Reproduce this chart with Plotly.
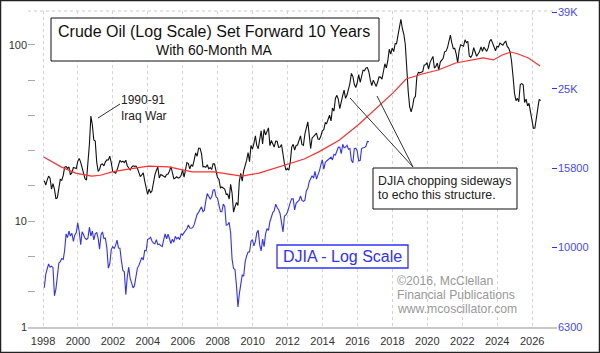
import plotly.graph_objects as go

# ---------------- data ----------------
# Crude oil monthly closes, Jan 1988 .. Jun 2016 (plotted shifted forward 10 years)
oil_start_year = 1988
oil_shift_years = 10
oil = [
    16.94, 16.01, 17.08, 17.99, 17.51, 15.16, 16.31, 15.18, 13.37, 13.58, 15.32, 17.24,
    17.03, 18.15, 20.19, 20.42, 19.90, 20.27, 18.31, 18.83, 20.13, 19.94, 19.89, 21.82,
    22.68, 21.54, 20.28, 18.54, 17.40, 17.07, 20.69, 27.32, 39.51, 35.23, 28.85, 28.44,
    21.54, 19.16, 19.63, 20.96, 21.13, 20.56, 21.68, 22.26, 22.23, 23.37, 21.48, 19.12,
    18.90, 18.68, 19.44, 20.85, 22.11, 21.60, 21.87, 21.48, 22.14, 20.62, 19.89, 19.50,
    20.26, 20.60, 20.44, 20.53, 19.94, 18.85, 17.88, 18.29, 18.79, 16.92, 15.43, 14.17,
    15.19, 14.48, 14.79, 16.90, 18.31, 19.37, 20.30, 17.56, 18.39, 18.19, 18.05, 17.76,
    18.39, 18.49, 19.17, 20.38, 18.89, 17.40, 17.56, 17.84, 17.54, 17.64, 18.18, 19.55,
    17.74, 19.54, 21.47, 21.20, 19.76, 20.92, 20.42, 22.25, 24.38, 23.35, 25.92, 25.92,
    24.15, 20.30, 20.41, 20.21, 20.88, 19.80, 20.14, 19.61, 21.18, 21.08, 19.15, 17.64,
    17.21, 15.44, 15.61, 15.39, 15.20, 14.18, 14.21, 13.34, 16.14, 14.42, 11.22, 12.05,
    12.75, 12.27, 16.76, 18.66, 16.84, 19.29, 20.53, 22.10, 24.51, 21.75, 26.88, 25.60,
    27.64, 30.43, 26.90, 25.74, 29.01, 32.50, 27.43, 33.12, 30.84, 32.70, 33.82, 26.80,
    28.66, 27.39, 26.29, 28.46, 28.37, 26.25, 26.35, 27.20, 23.43, 21.18, 19.44, 19.84,
    19.48, 21.74, 26.31, 27.29, 25.31, 26.86, 27.02, 28.98, 30.45, 27.22, 26.89, 31.20,
    33.51, 36.60, 31.04, 25.80, 29.56, 30.19, 30.54, 31.57, 29.20, 29.11, 30.41, 32.52,
    33.05, 36.16, 35.76, 37.38, 39.88, 37.05, 43.80, 42.12, 49.64, 51.76, 49.13, 43.45,
    48.20, 51.75, 55.40, 49.72, 51.97, 56.50, 60.57, 68.94, 66.24, 59.76, 57.32, 61.04,
    67.92, 61.41, 66.63, 71.88, 71.29, 73.93, 74.40, 70.26, 62.91, 58.73, 63.13, 61.05,
    58.14, 61.79, 65.87, 65.71, 64.01, 70.68, 78.21, 74.04, 81.66, 94.53, 88.71, 95.98,
    91.75, 101.84, 101.58, 113.46, 127.35, 140.00, 124.08, 115.46, 100.64, 68.10, 54.43, 44.60,
    41.68, 44.76, 49.66, 51.12, 66.31, 69.89, 69.45, 69.96, 70.61, 77.00, 77.28, 79.36,
    72.89, 79.66, 83.76, 86.15, 73.97, 75.63, 78.95, 71.92, 79.97, 81.43, 84.11, 91.38,
    92.19, 96.97, 106.72, 113.93, 102.70, 95.42, 95.70, 88.81, 79.20, 93.19, 100.36, 98.83,
    98.48, 107.07, 103.02, 104.87, 86.53, 84.96, 88.06, 96.47, 92.19, 86.24, 88.91, 91.82,
    97.49, 92.05, 97.23, 93.46, 91.97, 96.56, 105.03, 107.65, 102.33, 96.38, 92.72, 98.42,
    97.49, 102.59, 101.58, 99.74, 102.71, 105.37, 98.17, 95.96, 91.16, 80.54, 66.15, 53.27,
    48.24, 49.76, 47.60, 59.63, 60.30, 59.47, 47.12, 49.20, 45.09, 46.59, 41.65, 37.04,
    33.62, 33.75, 38.34, 45.92, 49.10, 48.33,
]

# 60-month moving average (already set forward)
ma_dates = [
    "1998-01-15", "1999-01-15", "1999-11-15", "2000-10-15", "2001-04-15", "2001-12-15",
    "2002-08-15", "2004-01-15", "2005-03-15", "2006-07-15", "2007-10-15", "2008-08-15",
    "2009-05-15", "2010-05-15", "2011-04-15", "2012-12-15", "2013-10-15", "2014-12-15",
    "2016-01-15", "2017-03-15", "2018-01-15", "2018-10-15", "2019-09-15", "2020-08-15",
    "2021-08-15", "2023-03-15", "2023-10-15", "2024-04-15", "2024-10-15", "2025-03-15",
    "2025-10-15", "2026-06-15",
]
ma_values = [
    23.1, 20.3, 18.7, 18.0, 18.2, 19.0,
    19.5, 20.5, 20.3, 19.0, 19.0, 18.5,
    18.0, 18.7, 20.0, 22.5, 24.7, 28.8,
    35.1, 44.5, 53.4, 64.1, 68.4, 72.1,
    79.0, 84.4, 82.2, 87.7, 91.2, 88.9,
    84.4, 76.0,
]

# DJIA monthly closes, Jan 1998 .. Aug 2016
djia_start_year = 1998
djia = [
    7906.5, 8545.7, 8799.8, 9063.4, 8899.9, 8952.0, 8883.3, 7539.1, 7842.6, 8592.1, 9116.6, 9181.4,
    9358.8, 9306.6, 9786.2, 10789.0, 10559.7, 10970.8, 10655.2, 10829.3, 10337.0, 10729.9, 10877.8, 11497.1,
    10940.5, 10128.3, 10921.9, 10733.9, 10522.3, 10447.9, 10522.0, 11215.1, 10650.9, 10971.1, 10414.5, 10788.0,
    10887.4, 10495.3, 9878.8, 10735.0, 10911.9, 10502.4, 10522.8, 9949.8, 8847.6, 9075.1, 9851.6, 10021.5,
    9920.0, 10106.1, 10403.9, 9946.2, 9925.3, 9243.3, 8736.6, 8663.5, 7591.9, 8397.0, 8896.1, 8341.6,
    8053.8, 7891.1, 7992.1, 8480.1, 8850.3, 8985.4, 9233.8, 9415.8, 9275.1, 9801.1, 9782.5, 10453.9,
    10488.1, 10583.9, 10357.7, 10225.6, 10188.5, 10435.5, 10139.7, 10173.9, 10080.3, 10027.5, 10428.0, 10783.0,
    10489.9, 10766.2, 10503.8, 10192.5, 10467.5, 10275.0, 10640.9, 10481.6, 10568.7, 10440.1, 10805.9, 10717.5,
    10864.9, 10993.4, 11109.3, 11367.1, 11168.3, 11150.2, 11185.7, 11381.2, 11679.1, 12080.7, 12221.9, 12463.2,
    12621.7, 12268.6, 12354.4, 13062.9, 13627.6, 13408.6, 13212.0, 13357.7, 13895.6, 13930.0, 13371.7, 13264.8,
    12650.4, 12266.4, 12262.9, 12820.1, 12638.3, 11350.0, 11378.0, 11543.6, 10850.7, 9325.0, 8829.0, 8776.4,
    8000.9, 7062.9, 7608.9, 8168.1, 8500.3, 8447.0, 9171.6, 9496.3, 9712.3, 9712.7, 10344.8, 10428.1,
    10067.3, 10325.3, 10856.6, 11008.6, 10136.6, 9774.0, 10465.9, 10014.7, 10788.1, 11118.5, 11006.0, 11577.5,
    11891.9, 12226.3, 12319.7, 12810.5, 12569.8, 12414.3, 12143.2, 11613.5, 10913.4, 11955.0, 12045.7, 12217.6,
    12632.9, 12952.1, 13212.0, 13213.6, 12393.5, 12880.1, 13008.7, 13090.8, 13437.1, 13096.5, 13025.6, 13104.1,
    13860.6, 14054.5, 14578.5, 14839.8, 15115.6, 14909.6, 15499.5, 14810.3, 15129.7, 15545.8, 16086.4, 16576.7,
    15698.9, 16321.7, 16457.7, 16580.8, 16717.2, 16826.6, 16563.3, 17098.5, 17042.9, 17390.5, 17828.2, 17823.1,
    17165.0, 18132.7, 17776.1, 17840.5, 18010.7, 17619.5, 17690.5, 16528.0, 16284.7, 17663.5, 17719.9, 17425.0,
    16466.3, 16516.5, 17685.1, 17773.6, 17787.2, 17930.0, 18432.2, 18400.9,
]

year_ticks = list(range(1998, 2027, 2))
left_tick_text = ["100", "", "", "", "", "10", "", "", "1"]
right_tick_vals = [39000, 25000, 15800, 10000, 6300]
right_tick_text = ["39K", "25K", "15800", "10000", "6300"]


def month_dates(start_year, n, shift=0):
    return [f"{start_year + shift + i // 12}-{i % 12 + 1:02d}-28" for i in range(n)]


oil_dates = month_dates(oil_start_year, len(oil), oil_shift_years)
djia_dates = month_dates(djia_start_year, len(djia))

# ---------------- layout helpers (pixel -> paper) ----------------
L, R, T, B = 28, 557, 11, 327
W, H = 600, 353


def px(x):
    return (x - L) / (R - L)


def py(y):
    return (B - y) / (B - T)


FONT = "Liberation Sans, Arial, sans-serif"
BLUE = "#3030ff"

fig = go.Figure()
fig.add_trace(go.Scatter(x=oil_dates, y=oil, mode="lines",
                         line=dict(color="#111111", width=1.1), yaxis="y"))
fig.add_trace(go.Scatter(x=ma_dates, y=ma_values, mode="lines",
                         line=dict(color="#ff3030", width=1.2), yaxis="y"))
fig.add_trace(go.Scatter(x=djia_dates, y=djia, mode="lines",
                         line=dict(color=BLUE, width=1.1), yaxis="y2"))

left_tick_vals = [10 ** (2 - 0.2 * k) for k in range(9)]

fig.update_layout(
    width=W, height=H,
    margin=dict(l=L, r=W - R, t=T, b=H - B, pad=0, autoexpand=False),
    paper_bgcolor="white", plot_bgcolor="white",
    showlegend=False,
    font=dict(family=FONT, color="#333333", size=11),
    xaxis=dict(
        type="date", automargin=False,
        range=["1997-02-21", "2027-06-05"],
        tickvals=[f"{y}-01-01" for y in year_ticks],
        ticktext=[str(y) for y in year_ticks],
        showgrid=True, gridcolor="#d4d4d4", griddash="dot", gridwidth=1,
        showline=True, linecolor="#c8c8c8", linewidth=2,
        ticks="outside", ticklen=3, tickcolor="rgba(0,0,0,0)",
        tickfont=dict(size=11, color="#333333"),
        zeroline=False,
    ),
    yaxis=dict(
        type="log", automargin=False,
        range=[0.398, 2.193],
        tickvals=left_tick_vals,
        ticktext=left_tick_text,
        ticks="inside", ticklen=7, tickcolor="#aaaaaa",
        showgrid=False, zeroline=False, showline=False,
        tickfont=dict(size=11, color="#333333"),
    ),
    yaxis2=dict(
        type="log", automargin=False,
        overlaying="y", side="right",
        range=[3.7988, 4.5936],
        tickvals=right_tick_vals,
        ticktext=right_tick_text,
        ticks="inside", ticklen=5, tickcolor=BLUE,
        showgrid=False, zeroline=False, showline=False,
        tickfont=dict(size=11, color="#4848ff"),
    ),
)

shapes = []
# top dotted border of the plot area
shapes.append(dict(type="line", xref="paper", yref="paper", x0=0, x1=1, y0=1, y1=1,
                   line=dict(color="#cccccc", width=1, dash="dot")))
# title box
shapes.append(dict(type="rect", xref="paper", yref="paper",
                   x0=px(51), x1=px(379), y0=py(61), y1=py(18),
                   line=dict(color="#111111", width=1), fillcolor="white", layer="above"))
# DJIA chopping box
shapes.append(dict(type="rect", xref="paper", yref="paper",
                   x0=px(373), x1=px(517), y0=py(209), y1=py(168),
                   line=dict(color="#111111", width=1), fillcolor="white", layer="above"))
# DJIA - Log Scale box
shapes.append(dict(type="rect", xref="paper", yref="paper",
                   x0=px(277), x1=px(408), y0=py(268), y1=py(245),
                   line=dict(color=BLUE, width=1.3), fillcolor="white", layer="above"))
# leader lines
for (x0, y0, x1, y1) in [(120, 104, 98, 118), (350, 98, 413, 167), (377, 96, 413, 167)]:
    shapes.append(dict(type="line", xref="paper", yref="paper",
                       x0=px(x0), y0=py(y0), x1=px(x1), y1=py(y1),
                       line=dict(color="#333333", width=1), layer="above"))
# outer frame
shapes.append(dict(type="rect", xref="paper", yref="paper",
                   x0=px(0.5), x1=px(599.5), y0=py(352.5), y1=py(0.5),
                   line=dict(color="#222222", width=1.5), fillcolor="rgba(0,0,0,0)"))
fig.update_layout(shapes=shapes)


def note(text, x, y, size, color="#111111", xanchor="left"):
    fig.add_annotation(text=text, xref="paper", yref="paper", x=px(x), y=py(y),
                       xanchor=xanchor, yanchor="middle", showarrow=False,
                       font=dict(family=FONT, size=size, color=color), borderpad=0)


note("Crude Oil (Log Scale) Set Forward 10 Years", 214, 31, 16, "#111111", "center")
note("With 60-Month MA", 214, 50, 14, "#111111", "center")
note("1990-91", 120, 100, 12, "#222222")
note("Iraq War", 120, 116, 12, "#222222")
note("DJIA chopping sideways", 377, 181, 12.3, "#222222")
note("to echo this structure.", 377, 195, 12.3, "#222222")
note("DJIA - Log Scale", 342.5, 256.5, 16, BLUE, "center")
note("\u00a92016, McClellan", 396, 281, 12.2, "#999999")
note("Financial Publications", 396, 295, 12.2, "#999999")
note("www.mcoscillator.com", 396, 309, 12.2, "#999999")

fig.write_html("out.html")
